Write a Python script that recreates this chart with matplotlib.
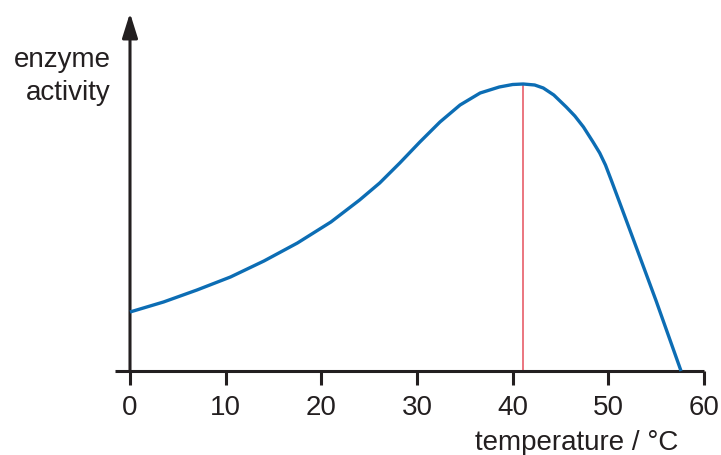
import matplotlib
matplotlib.use("Agg")
import matplotlib.pyplot as plt

plt.rcParams['font.family'] = ['Liberation Sans', 'DejaVu Sans']

# Data (activity in arbitrary units)
temperature = [0, 3.5, 7, 10.5, 14, 17.5, 21, 24.0, 26.1, 28.2, 30.3, 32.4, 34.5, 36.6, 38.6,
               40, 41.1, 42.3, 43.2, 44.3, 45.6, 46.5, 47.4, 48.4, 49.1, 49.7, 50.3,
               51.2, 52.6, 55.0, 57.6]
activity = [59, 69, 81, 94, 110, 128, 149, 171, 188, 208, 229, 249, 266, 278, 284,
            286.5, 287, 286, 283, 276, 264, 255, 244, 229, 218, 206, 191,
            168, 132, 70, 0]
peak_temp = 41.1
peak_activity = 287
xticks = [0, 10, 20, 30, 40, 50, 60]

W, H = 721, 455
fig = plt.figure(figsize=(W / 100, H / 100), dpi=100)
x0_px, x60_px, left_px = 130, 704, 115
ppu = (x60_px - x0_px) / 60.0
xmin = -(x0_px - left_px) / ppu
axis_py, top_py = 371, 13
ax = fig.add_axes([left_px / W, (H - axis_py) / H, (x60_px - left_px) / W, (axis_py - top_py) / H])
ax.set_xlim(xmin, 60)
ax.set_ylim(0, axis_py - top_py)

dark = '#231f20'
for s in ['top', 'right', 'left']:
    ax.spines[s].set_visible(False)
ax.spines['bottom'].set_linewidth(2.2)
ax.spines['bottom'].set_color(dark)
ax.spines['bottom'].set_capstyle('butt')

ax.set_xticks(xticks)
ax.set_xticklabels([str(t) for t in xticks])
ax.set_yticks([])
ax.tick_params(axis='x', direction='out', length=10, width=2.2, color=dark,
               pad=7, labelsize=20, labelcolor=dark)

# y axis with arrow
ax.annotate('', xy=(0, axis_py - top_py), xytext=(0, 0),
            arrowprops=dict(arrowstyle='-|>,head_length=1.5,head_width=0.47',
                            lw=2.2, color=dark, shrinkA=0, shrinkB=0,
                            mutation_scale=10),
            annotation_clip=False)

ax.plot([peak_temp, peak_temp], [0, peak_activity], color='#e5505c', lw=1.1, zorder=2)
ax.plot(temperature, activity, color='#0c6db4', lw=2.4, solid_joinstyle='round',
        solid_capstyle='butt', zorder=3, clip_on=False)

fig.text(111 / W, (H - 67) / H, 'enzyme', ha='right', va='baseline', fontsize=20, color=dark)
fig.text(111 / W, (H - 100) / H, 'activity', ha='right', va='baseline', fontsize=20, color=dark)
fig.text(678 / W, (H - 450) / H, 'temperature / °C', ha='right', va='baseline', fontsize=20, color=dark)

fig.savefig('out.png', dpi=100)
